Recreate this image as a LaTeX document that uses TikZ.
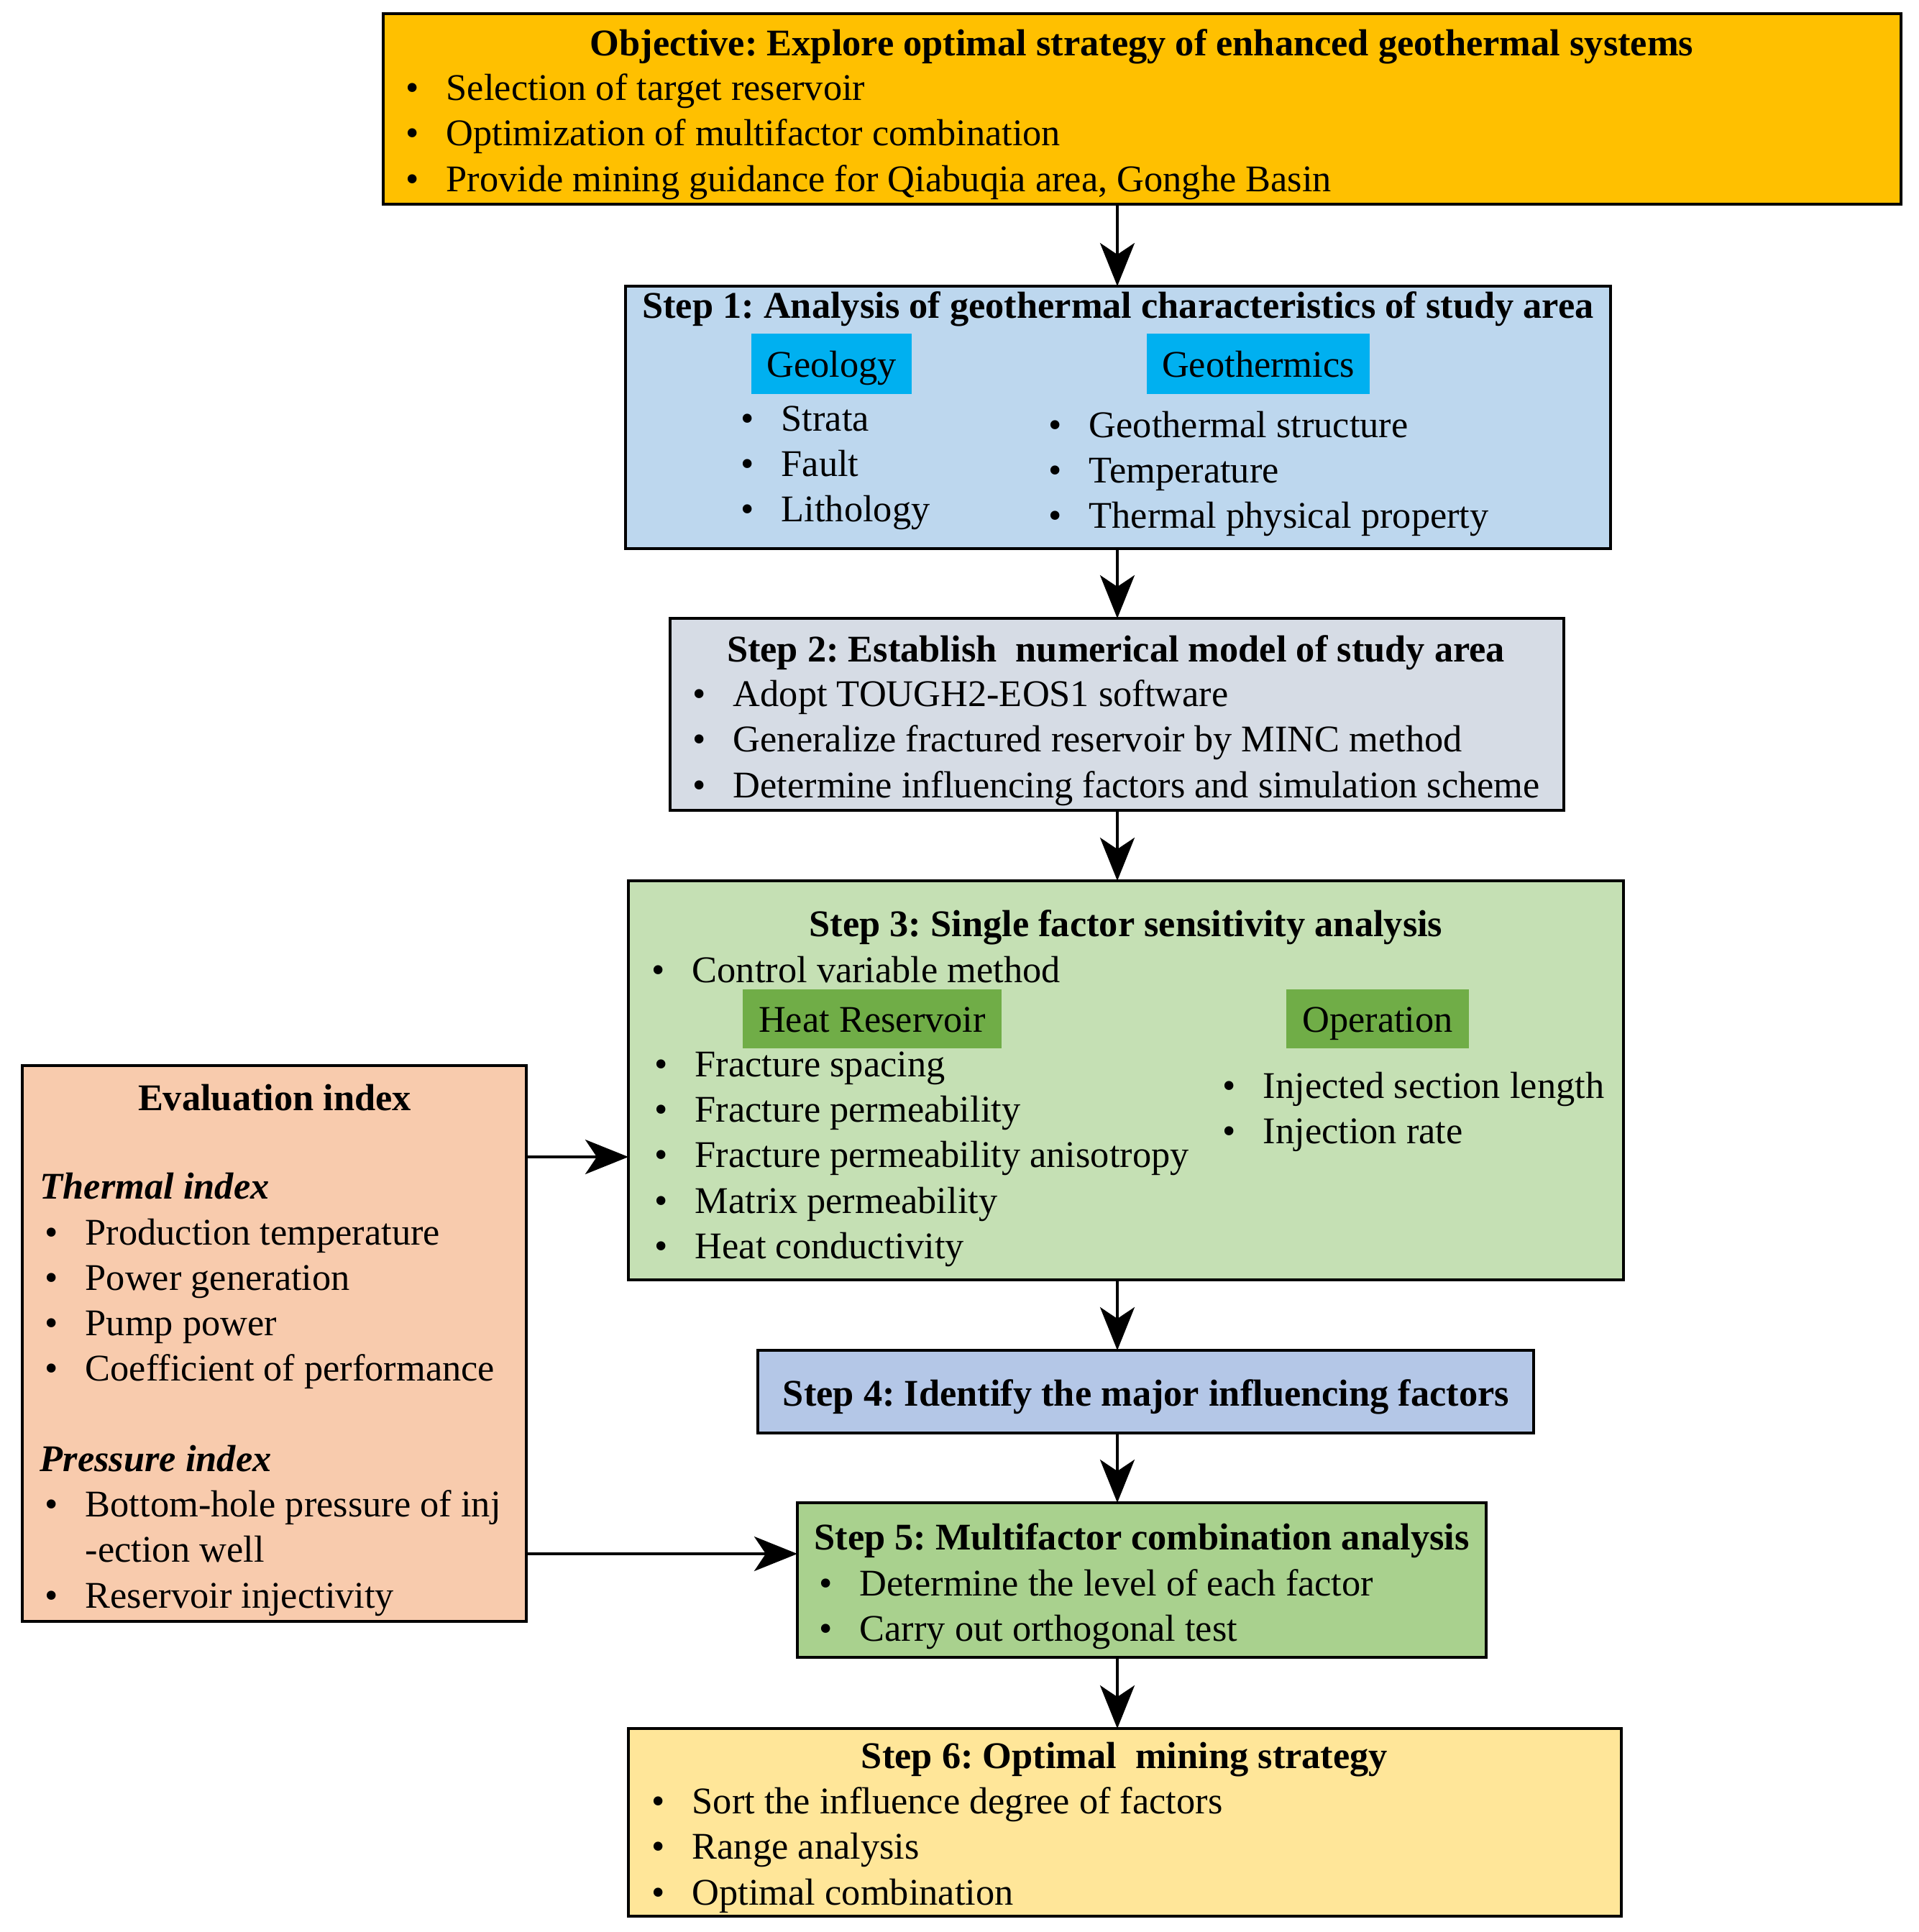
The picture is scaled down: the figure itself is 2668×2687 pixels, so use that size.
\documentclass[tikz,border=0pt]{standalone}
\usepackage{fontspec}
\setmainfont{Liberation Serif}
\usetikzlibrary{arrows.meta,positioning}

\definecolor{objfill}{HTML}{FFC000}
\definecolor{stepafill}{HTML}{BDD7EE}
\definecolor{tagblue}{HTML}{00B0F0}
\definecolor{stepbfill}{HTML}{D6DCE5}
\definecolor{stepcfill}{HTML}{C5E0B4}
\definecolor{taggreen}{HTML}{70AD47}
\definecolor{stepdfill}{HTML}{B4C7E7}
\definecolor{stepefill}{HTML}{A9D18E}
\definecolor{stepffill}{HTML}{FFE699}
\definecolor{evalfill}{HTML}{F8CBAD}

\newcommand{\bul}{\makebox[14pt][l]{\textbullet}}
\frenchspacing

\begin{document}
\begin{tikzpicture}[
  x=0.25pt, y=-0.25pt,
  every node/.style={font=\fontsize{13.1}{15.8}\selectfont},
  box/.style={draw, line width=0.8pt, anchor=north west, inner sep=0pt, outer sep=0pt},
  tag/.style={anchor=north west, inner sep=0pt, outer sep=0pt, text height=9.4pt, text depth=0pt},
  ttl/.style={font=\fontsize{13.1}{15.8}\selectfont\bfseries},
  lst/.style={align=left, anchor=north west, inner sep=0pt},
  arr/.style={-{Stealth[length=15pt, width=12pt, inset=4pt]}, line width=1pt},
]
\useasboundingbox (0,0) rectangle (2668,2687);

% boxes
\node[box, fill=objfill, minimum width=527.75pt, minimum height=66.25pt] (obj) at (533,19) {};
\node[box, fill=stepafill, minimum width=342.5pt, minimum height=91.25pt] (s1) at (870,398) {};
\node[box, fill=stepbfill, minimum width=310.75pt, minimum height=66.75pt] (s2) at (932,860) {};
\node[box, fill=stepcfill, minimum width=346pt, minimum height=138.75pt] (s3) at (874,1225) {};
\node[box, fill=stepdfill, minimum width=269.75pt, minimum height=28.75pt] (s4) at (1054,1878) {};
\node[box, fill=stepefill, minimum width=239.5pt, minimum height=53.75pt] (s5) at (1109,2090) {};
\node[box, fill=stepffill, minimum width=345.25pt, minimum height=65.25pt] (s6) at (874,2404) {};
\node[box, fill=evalfill, minimum width=175.25pt, minimum height=193.25pt] (eval) at (31,1482) {};

% objective
\node[ttl] (objttl) at (1588,65) {Objective: Explore optimal strategy of enhanced geothermal systems};
\node[lst] (objlst) at (564,102) {\bul Selection of target reservoir\\
  \bul Optimization of multifactor combination\\
  \bul Provide mining guidance for Qiabuqia area, Gonghe Basin};

% step 1
\node[ttl] (s1ttl) at (1555,430) {Step 1: Analysis of geothermal characteristics of study area};
\node[tag, fill=tagblue, minimum width=55.75pt, minimum height=21pt] (geo) at (1045,464) {Geology};
\node[tag, fill=tagblue, minimum width=77.5pt, minimum height=21pt] (gth) at (1595,464) {Geothermics};
\node[lst] (geolst) at (1030,564) {\bul Strata\\ \bul Fault\\ \bul Lithology};
\node[lst] (gthlst) at (1458,571) {\bul Geothermal structure\\ \bul Temperature\\ \bul Thermal physical property};

% step 2
\node[ttl] (s2ttl) at (1552,908) {Step 2: Establish\ \ numerical model of study area};
\node[lst] (s2lst) at (963,945) {\bul Adopt TOUGH2-EOS1 software\\
  \bul Generalize fractured reservoir by MINC method\\
  \bul Determine influencing factors and simulation scheme};

% step 3
\node[ttl] (s3ttl) at (1566,1290) {Step 3: Single factor sensitivity analysis};
\node[lst] (s3lst) at (906,1329) {\bul Control variable method};
\node[tag, fill=taggreen, minimum width=90pt, minimum height=20.5pt] (hr) at (1033,1376) {Heat Reservoir};
\node[tag, fill=taggreen, minimum width=63.5pt, minimum height=20.5pt] (op) at (1789,1376) {Operation};
\node[lst] (hrlst) at (910,1462) {\bul Fracture spacing\\
  \bul Fracture permeability\\
  \bul Fracture permeability anisotropy\\
  \bul Matrix permeability\\
  \bul Heat conductivity};
\node[lst] (oplst) at (1700,1490) {\bul Injected section length\\ \bul Injection rate};

% step 4
\node[ttl] (s4ttl) at (1594,1943) {Step 4: Identify the major influencing factors};

% step 5
\node[ttl] (s5ttl) at (1588,2143) {Step 5: Multifactor combination analysis};
\node[lst] (s5lst) at (1139,2182) {\bul Determine the level of each factor\\ \bul Carry out orthogonal test};

% step 6
\node[ttl] (s6ttl) at (1564,2447) {Step 6: Optimal\ \ mining strategy};
\node[lst] (s6lst) at (906,2485) {\bul Sort the influence degree of factors\\
  \bul Range analysis\\
  \bul Optimal combination};

% evaluation index
\node[ttl] (evttl) at (382,1527) {Evaluation index};
\node[ttl, anchor=west, inner sep=0pt, font=\fontsize{13.1}{15.8}\selectfont\bfseries\itshape] (thm) at (55,1650) {Thermal index};
\node[lst] (thmlst) at (62,1694) {\bul Production temperature\\
  \bul Power generation\\
  \bul Pump power\\
  \bul Coefficient of performance};
\node[ttl, anchor=west, inner sep=0pt, font=\fontsize{13.1}{15.8}\selectfont\bfseries\itshape] (prs) at (55,2029) {Pressure index};
\node[lst] (prslst) at (62,2072) {\bul Bottom-hole pressure of inj\\
  \makebox[14pt]{}-ection well\\
  \bul Reservoir injectivity};

% connectors
\coordinate (ax) at (1554,0);
\coordinate (ea) at (0,1609);
\coordinate (eb) at (0,2161);
\draw[arr] (obj.south -| ax) -- (s1.north -| ax);
\draw[arr] (s1.south -| ax) -- (s2.north -| ax);
\draw[arr] (s2.south -| ax) -- (s3.north -| ax);
\draw[arr] (s3.south -| ax) -- (s4.north -| ax);
\draw[arr] (s4.south -| ax) -- (s5.north -| ax);
\draw[arr] (s5.south -| ax) -- (s6.north -| ax);
\draw[arr] (eval.east |- ea) -- (s3.west |- ea);
\draw[arr] (eval.east |- eb) -- (s5.west |- eb);
\end{tikzpicture}
\end{document}
